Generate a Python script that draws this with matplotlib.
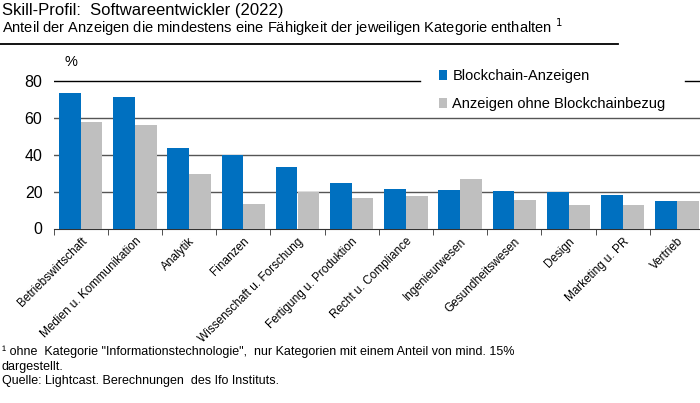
import numpy as np
import matplotlib.pyplot as plt

plt.rcParams['font.family'] = ['Liberation Sans', 'DejaVu Sans']

categories = ['Betriebswirtschaft', 'Medien u. Kommunikation', 'Analytik', 'Finanzen',
              'Wissenschaft u. Forschung', 'Fertigung u. Produktion', 'Recht u. Compliance',
              'Ingenieurwesen', 'Gesundheitswesen', 'Design', 'Marketing u. PR', 'Vertrieb']
blockchain = [73.2, 71.3, 43.9, 39.7, 33.4, 24.9, 21.3, 21.1, 20.2, 19.7, 18.4, 14.8]
ohne_blockchain = [57.8, 56.0, 29.3, 13.2, 19.8, 16.6, 17.5, 26.7, 15.3, 12.6, 12.6, 14.8]
yticks = [0, 20, 40, 60, 80]

BLUE = '#0070C0'
GREY = '#BFBFBF'

fig = plt.figure(figsize=(7, 4.03), dpi=100)
ax = fig.add_axes([53.6 / 700, 1 - 228.5 / 403, 650.4 / 700, 85 * 1.845 / 403])

x = np.arange(len(categories))
w = 0.4
ax.bar(x - w / 2, blockchain, w, color=BLUE, label='Blockchain-Anzeigen', zorder=3)
ax.bar(x + w / 2, ohne_blockchain, w, color=GREY, label='Anzeigen ohne Blockchainbezug', zorder=3)

ax.set_xlim(-0.5, len(categories) - 0.5)
ax.set_ylim(0, 85)
for v in yticks[1:-1]:
    ax.axhline(v, color='#555555', lw=1.0, zorder=1)
# top gridline is interrupted by the legend
ax.axhline(80, xmax=(420 - 53.6) / 650.4, color='black', lw=1.0, zorder=1)
ax.axhline(80, xmin=(685 - 53.6) / 650.4, color='black', lw=1.0, zorder=1)

ax.set_yticks(yticks)
ax.tick_params(axis='y', length=0, pad=8, labelsize=11.5)
ax.set_xticks(x)
ax.set_xticklabels(categories, rotation=45, ha='right', rotation_mode='anchor', fontsize=8.5)
ax.tick_params(axis='x', which='major', length=0, pad=5)
ax.set_xticks(np.arange(len(categories) + 1) - 0.5, minor=True)
ax.tick_params(axis='x', which='minor', length=4, direction='out', color='#333333')

for s in ['top', 'right', 'left']:
    ax.spines[s].set_visible(False)
ax.spines['bottom'].set_color('#333333')

ax.text(-0.3, 90.5, '%', fontsize=10.5, ha='left', va='center')

ax.legend(loc='upper left', bbox_to_anchor=(0.574, 1.09), frameon=False,
          fontsize=10.5, handlelength=0.6, handleheight=0.6, handletextpad=0.35,
          labelspacing=0.95, borderpad=0.3)

fig.text(2 / 700, 1 - 10 / 403, 'Skill-Profil:  Softwareentwickler (2022)', fontsize=12, va='center')
fig.text(2 / 700, 1 - 27 / 403,
         'Anteil der Anzeigen die mindestens eine Fähigkeit der jeweiligen Kategorie enthalten $^1$',
         fontsize=10.5, va='center')
fig.add_artist(plt.Line2D([0, 618 / 700], [1 - 44 / 403, 1 - 44 / 403], color='black', lw=1.3))

fig.text(2 / 700, 1 - 352 / 403,
         '¹ ohne  Kategorie "Informationstechnologie",  nur Kategorien mit einem Anteil von mind. 15%',
         fontsize=9, va='center')
fig.text(2 / 700, 1 - 367 / 403, 'dargestellt.', fontsize=9, va='center')
fig.text(2 / 700, 1 - 381 / 403, 'Quelle: Lightcast. Berechnungen  des Ifo Instituts.', fontsize=9, va='center')

fig.savefig('out.png', dpi=100)
